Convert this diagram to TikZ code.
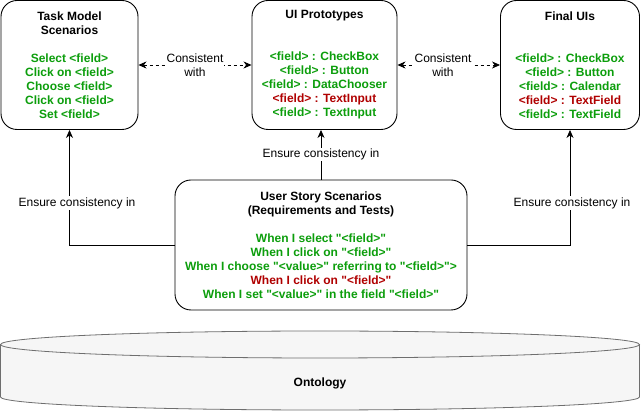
\documentclass[tikz,border=0pt]{standalone}
\usepackage{fontspec}
\setmainfont{Liberation Sans}[Ligatures=TeXOff]
\usetikzlibrary{arrows.meta,shapes.geometric}
\definecolor{okgreen}{RGB}{12,158,12}
\definecolor{badred}{RGB}{176,0,0}
\definecolor{cylfill}{RGB}{246,246,246}
\definecolor{cylline}{RGB}{110,110,110}
\tikzset{
  box/.style={draw=black, line width=0.9pt, rounded corners=16pt, fill=white,
    align=center, inner sep=0pt, font=\fontsize{12}{14}\selectfont\bfseries},
  arr/.style={line width=0.8pt, -{Stealth[length=8pt,width=7pt,inset=2.5pt]}},
  dash2/.style={line width=0.8pt, dash pattern=on 3pt off 3pt,
    {Stealth[length=8pt,width=7pt,inset=2.5pt]}-{Stealth[length=8pt,width=7pt,inset=2.5pt]}},
  lbl/.style={fill=white, inner sep=1pt, align=center, font=\fontsize{12}{14}\selectfont},
}
\newcommand{\G}[1]{\textcolor{okgreen}{#1}}
\newcommand{\R}[1]{\textcolor{badred}{#1}}
\newcommand{\Q}{\symbol{34}}
\begin{document}
\begin{tikzpicture}[x=1pt,y=-1pt]
\useasboundingbox (0,0) rectangle (641,411);
% Ontology cylinder
\fill[cylfill] (0.5,344.5) -- (0.5,397) arc[start angle=180,end angle=0,x radius=319.5,y radius=13] -- (639.5,344.5) -- cycle;
\draw[cylline, line width=0.8pt, fill=cylfill] (320,344.5) ellipse[x radius=319.5, y radius=13.5];
\draw[cylline, line width=0.8pt] (0.5,344.5) -- (0.5,397) arc[start angle=180,end angle=0,x radius=319.5,y radius=13] -- (639.5,344.5);
\node[font=\fontsize{12}{14}\selectfont\bfseries] (onto) at (320,383) {Ontology};

% Boxes
\node[box, minimum width=137pt, minimum height=129pt] (tm) at (69.5,65) {Task Model\\Scenarios\\~\\
\G{Select <field>}\\\G{Click on <field>}\\\G{Choose <field>}\\\G{Click on <field>}\\\G{Set <field>}};
\node[box, minimum width=145pt, minimum height=129pt] (ui) at (324.5,65) {UI Prototypes\\~\\~\\
\G{<field> : CheckBox}\\\G{<field> : Button}\\\G{<field> : DataChooser}\\\R{<field> : TextInput}\\\G{<field> : TextInput}};
\node[box, minimum width=139pt, minimum height=129pt] (fu) at (570,65) {Final UIs\\~\\~\\
\G{<field> : CheckBox}\\\G{<field> : Button}\\\G{<field> : Calendar}\\\R{<field> : TextField}\\\G{<field> : TextField}};
\node[box, minimum width=292pt, minimum height=130pt] (us) at (321,245) {User Story Scenarios\\(Requirements and Tests)\\~\\
\G{When I select \Q<field>\Q}\\\G{When I click on \Q<field>\Q}\\\G{When I choose \Q<value>\Q{} referring to \Q<field>\Q>}\\\R{When I click on \Q<field>\Q}\\\G{When I set \Q<value>\Q{} in the field \Q<field>\Q}};

% Connectors
\draw[arr] (us.north) -- (us.north |- ui.south) node[lbl, pos=0.5] {Ensure consistency in};
\draw[arr] (us.west) -| (tm.south);
\node[lbl] (ll) at (77,203) {Ensure consistency in};
\draw[arr] (us.east) -| (fu.south);
\node[lbl] (rl) at (572,203) {Ensure consistency in};

\draw[dash2] (tm.east) -- (ui.west);
\node[lbl] (lc) at (195,65) {Consistent\\with};
\draw[dash2] (ui.east) -- (fu.west);
\node[lbl] (rc) at (443,65) {Consistent\\with};
\end{tikzpicture}
\end{document}
